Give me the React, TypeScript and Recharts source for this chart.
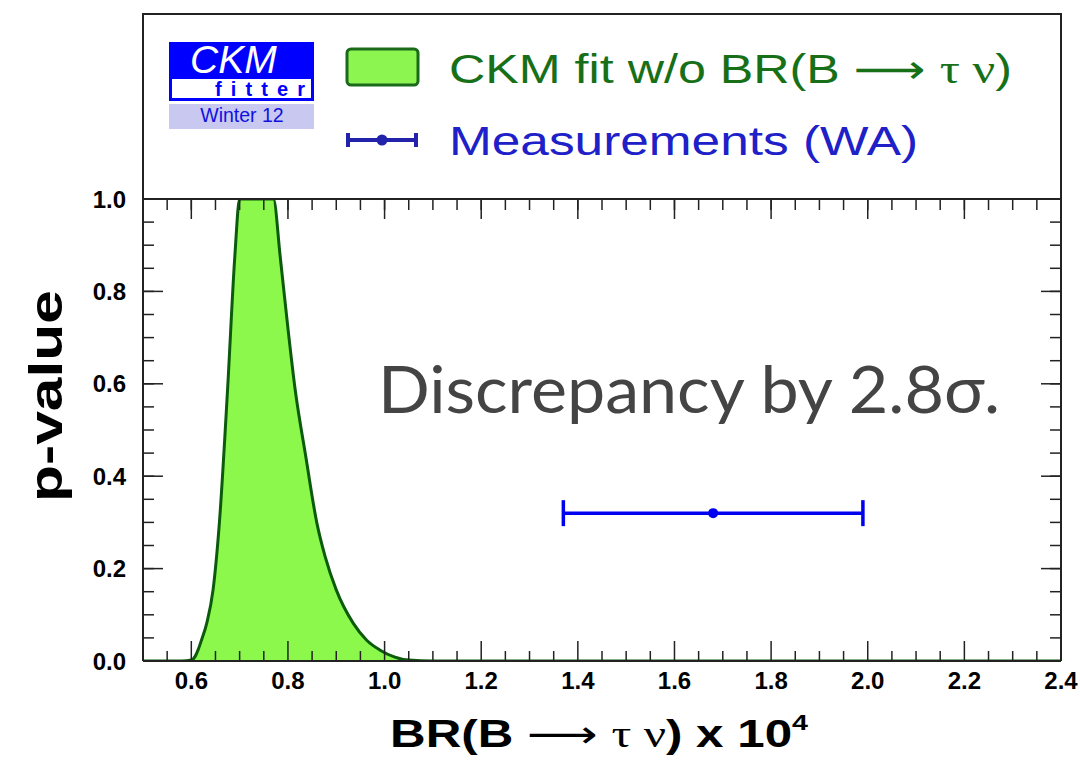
import { Area, ComposedChart, ErrorBar, Scatter, XAxis, YAxis } from "recharts";

// CKM fit p-value scan of BR(B -> tau nu), x in units of 1e-4
const fitX = [0.5, 0.58, 0.6, 0.608, 0.614, 0.621, 0.632, 0.645, 0.658, 0.675, 0.69, 0.7, 0.77, 0.784, 0.8, 0.815, 0.837, 0.86, 0.877, 0.9, 0.935, 0.963, 0.99, 1.02, 1.05, 1.1, 2.4];
const fitP = [0, 0, 0.002, 0.01, 0.024, 0.045, 0.082, 0.154, 0.298, 0.587, 0.875, 1, 1, 0.875, 0.72, 0.587, 0.442, 0.298, 0.226, 0.154, 0.082, 0.045, 0.024, 0.009, 0.002, 0, 0];

// world average measurement
const measX = [1.68];
const measP = [0.32];
const measErr = [0.31];

const xMajor = [0.6, 0.8, 1.0, 1.2, 1.4, 1.6, 1.8, 2.0, 2.2, 2.4];
const yMajor = [0, 0.2, 0.4, 0.6, 0.8, 1.0];
const xMinor = Array.from({ length: 39 }, (_, i) => Math.round((0.5 + i * 0.05) * 100) / 100);
const yMinor = Array.from({ length: 21 }, (_, i) => Math.round(i * 0.05 * 100) / 100);

const fitData = fitX.map((x, i) => ({ x, p: fitP[i] }));
const measData = measX.map((x, i) => ({ x, p: measP[i], ex: [measErr[i], measErr[i]] }));
const isMajorX = (v: number) => xMajor.some((m) => Math.abs(m - v) < 1e-6);
// anchor points for the bottom-edge tick marks (sit on p = 0)
const bottomTicks = xMinor.map((x) => ({ x, p: 0, major: isMajorX(x) }));

const X_DOMAIN: [number, number] = [0.5, 2.4];
const Y_DOMAIN: [number, number] = [0, 1];
const FRAME = "#222";
const SANS = "'Liberation Sans', Arial, Helvetica, sans-serif";
const SERIF = "'Liberation Serif', 'Times New Roman', serif";
const ARROW = "'DejaVu Sans', sans-serif";
const tickStroke = { stroke: FRAME, strokeWidth: 1.5 };

function XTick({ x, y, payload }: any) {
  return (
    <text x={x} y={y} dy={17} textAnchor="middle" fontFamily={SANS} fontSize={24} fontWeight={700} fill="#000">
      {Number(payload.value).toFixed(1)}
    </text>
  );
}

function YTick({ x, y, payload }: any) {
  return (
    <text x={x} y={y} dy={8.5} textAnchor="end" fontFamily={SANS} fontSize={24} fontWeight={700} fill="#000">
      {Number(payload.value).toFixed(1)}
    </text>
  );
}

// tick marks only, no label
const NoLabel = () => <g />;

function BottomTickMark(props: any) {
  const len = props.payload && props.payload.major ? 20 : 10;
  return <line x1={props.cx} y1={props.cy} x2={props.cx} y2={props.cy - len} stroke={FRAME} strokeWidth={1.5} />;
}

function MeasDot(props: any) {
  return <circle cx={props.cx} cy={props.cy} r={5} fill="#0000f0" />;
}

function Overlay() {
  return (
    <svg width={1080} height={776} style={{ position: "absolute", left: 0, top: 0, pointerEvents: "none" }}>
      {/* legend box above the plot */}
      <rect x={143} y={14} width={918} height={185} fill="none" stroke={FRAME} strokeWidth={2} />

      {/* CKMfitter logo */}
      <rect x={169} y={42} width={145} height={59} fill="#0000ff" />
      <rect x={172} y={79} width={139} height={19} fill="#fff" />
      <text x={190} y={73} fill="#fff" fontFamily={SANS} fontStyle="italic" fontSize={39}>CKM</text>
      <text x={215} y={96} fill="#0000ff" fontFamily={SANS} fontWeight={700} fontSize={20} textLength={90} lengthAdjust="spacing">fitter</text>
      <rect x={169} y={104} width={145} height={25} fill="#c8c8f0" />
      <text x={242} y={122} fill="#1010e0" fontFamily={SANS} fontSize={19.5} textAnchor="middle">Winter 12</text>

      {/* legend entries */}
      <rect x={347} y={49} width={71} height={36} rx={4} fill="#8cf550" stroke="#1a6a1a" strokeWidth={3} />
      <text x={449} y={83} fill="#177017" fontFamily={SANS} fontSize={40} textLength={563} lengthAdjust="spacingAndGlyphs">
        CKM fit w/o BR(B <tspan fontFamily={ARROW}>{"\u27f6"}</tspan> <tspan fontFamily={SERIF}>{"\u03c4 \u03bd"}</tspan>)
      </text>
      <line x1={347} y1={140} x2={417} y2={140} stroke="#2222aa" strokeWidth={4} />
      <line x1={348} y1={133} x2={348} y2={147} stroke="#2222aa" strokeWidth={4} />
      <line x1={416} y1={133} x2={416} y2={147} stroke="#2222aa" strokeWidth={4} />
      <circle cx={382} cy={140} r={5.5} fill="#2222aa" />
      <text x={449} y={155} fill="#2020c8" fontFamily={SANS} fontSize={40} textLength={469} lengthAdjust="spacingAndGlyphs">
        Measurements (WA)
      </text>

      {/* annotation */}
      <text x={378} y={413} fill="#444" fontFamily="Lato, 'Open Sans', sans-serif" fontSize={66} textLength={622} lengthAdjust="spacingAndGlyphs">
        Discrepancy by 2.8{"\u03c3"}.
      </text>

      {/* axis titles */}
      <text x={390} y={747} fill="#000" fontFamily={SANS} fontWeight={700} fontSize={38} textLength={418} lengthAdjust="spacingAndGlyphs">
        BR(B <tspan fontFamily={ARROW} fontWeight={400}>{"\u27f6"}</tspan> <tspan fontFamily={SERIF} fontWeight={400}>{"\u03c4 \u03bd"}</tspan>) x 10<tspan fontSize={22} dy={-17}>4</tspan>
      </text>
      <text transform="translate(62,396) rotate(-90)" fill="#000" fontFamily={SANS} fontWeight={700} fontSize={47} textAnchor="middle" textLength={212} lengthAdjust="spacingAndGlyphs">
        p-value
      </text>
    </svg>
  );
}

export default function App() {
  return (
    <div style={{ position: "relative", width: 1080, height: 776, background: "#fff" }}>
      <style>{"body{margin:0}"}</style>
      <ComposedChart width={1080} height={776} data={fitData} margin={{ top: 199, right: 19, bottom: 75, left: 83 }}>
        <XAxis xAxisId="main" dataKey="x" type="number" domain={X_DOMAIN} allowDataOverflow ticks={xMajor} interval={0}
          height={40} tickLine={false} tickSize={0} tickMargin={11} tick={<XTick />}
          axisLine={{ stroke: FRAME, strokeWidth: 2 }} />
        {/* inward tick marks on top, left and right */}
        <XAxis xAxisId="tMaj" dataKey="x" orientation="top" type="number" domain={X_DOMAIN} allowDataOverflow ticks={xMajor} interval={0} mirror height={1} tickSize={20} tick={NoLabel} axisLine={{ stroke: FRAME, strokeWidth: 2 }} tickLine={tickStroke} />
        <XAxis xAxisId="tMin" dataKey="x" orientation="top" type="number" domain={X_DOMAIN} allowDataOverflow ticks={xMinor} interval={0} mirror height={1} tickSize={10} tick={NoLabel} axisLine={false} tickLine={tickStroke} />

        <YAxis yAxisId="main" dataKey="p" type="number" domain={Y_DOMAIN} allowDataOverflow ticks={yMajor} interval={0}
          width={60} tickLine={false} tickSize={0} tickMargin={17} tick={<YTick />}
          axisLine={{ stroke: FRAME, strokeWidth: 2 }} />
        <YAxis yAxisId="lMaj" dataKey="p" type="number" domain={Y_DOMAIN} allowDataOverflow ticks={yMajor} interval={0} mirror width={1} tickSize={20} tick={NoLabel} axisLine={false} tickLine={tickStroke} />
        <YAxis yAxisId="lMin" dataKey="p" type="number" domain={Y_DOMAIN} allowDataOverflow ticks={yMinor} interval={0} mirror width={1} tickSize={10} tick={NoLabel} axisLine={false} tickLine={tickStroke} />
        <YAxis yAxisId="rMaj" dataKey="p" orientation="right" type="number" domain={Y_DOMAIN} allowDataOverflow ticks={yMajor} interval={0} mirror width={1} tickSize={20} tick={NoLabel} axisLine={{ stroke: FRAME, strokeWidth: 2 }} tickLine={tickStroke} />
        <YAxis yAxisId="rMin" dataKey="p" orientation="right" type="number" domain={Y_DOMAIN} allowDataOverflow ticks={yMinor} interval={0} mirror width={1} tickSize={10} tick={NoLabel} axisLine={false} tickLine={tickStroke} />

        <Area xAxisId="main" yAxisId="main" type="monotone" dataKey="p" fill="#8cf84c" fillOpacity={1}
          stroke="#0c5a0c" strokeWidth={3} dot={false} activeDot={false} isAnimationActive={false} />

        {/* inward tick marks along the bottom edge */}
        <Scatter xAxisId="main" yAxisId="main" data={bottomTicks} dataKey="p" shape={BottomTickMark} isAnimationActive={false} />

        <Scatter xAxisId="main" yAxisId="main" data={measData} dataKey="p" shape={MeasDot} isAnimationActive={false}>
          <ErrorBar dataKey="ex" direction="x" width={13} stroke="#0000f0" strokeWidth={3.5} isAnimationActive={false} />
        </Scatter>
      </ComposedChart>
      <Overlay />
    </div>
  );
}
